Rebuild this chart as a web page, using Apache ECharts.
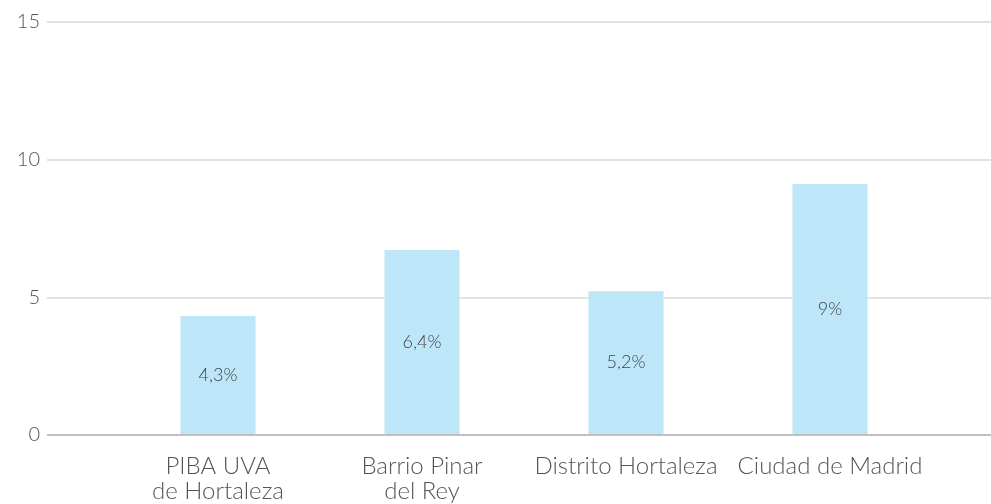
<!DOCTYPE html>
<html>
<head>
<meta charset="utf-8">
<script src="https://cdn.jsdelivr.net/npm/echarts@6/dist/echarts.min.js"></script>
<style>
  html, body { margin: 0; padding: 0; background: #fff; }
  #chart { width: 991px; height: 504px; }
</style>
</head>
<body>
<div id="chart"></div>
<script>
var categories = ['PIBA UVA\nde Hortaleza', 'Barrio Pinar\ndel Rey', 'Distrito Hortaleza', 'Ciudad de Madrid'];
var values = [4.3, 6.7, 5.2, 9.1];          // bar heights as drawn
var valueLabels = ['4,3%', '6,4%', '5,2%', '9%']; // text printed on the bars
var yTicks = [0, 5, 10, 15];

var font = 'Lato';
var myChart = echarts.init(document.getElementById('chart'));

var option = {
  animation: false,
  grid: [
    { left: 47, right: 0, top: 22, bottom: 69 },    // gridlines + y labels
    { left: 116, right: 59, top: 22, bottom: 69 }   // bars
  ],
  xAxis: [
    { gridIndex: 0, type: 'category', data: [''], show: false },
    {
      gridIndex: 1,
      type: 'category',
      data: categories,
      axisLine: { show: false },
      axisTick: { show: false },
      axisLabel: {
        color: '#555',
        fontFamily: font,
        fontWeight: 300,
        fontSize: 24,
        lineHeight: 25,
        margin: 20,
        interval: 0
      }
    }
  ],
  yAxis: [
    {
      gridIndex: 0,
      type: 'value',
      min: yTicks[0],
      max: yTicks[yTicks.length - 1],
      interval: 5,
      axisLine: { show: false },
      axisTick: { show: false },
      axisLabel: {
        color: '#555',
        fontFamily: font,
        fontWeight: 300,
        fontSize: 20,
        margin: 7
      },
      splitLine: { lineStyle: { color: ['#aaa', '#d9d9d9', '#d9d9d9', '#d9d9d9'], width: 1.5 } }
    },
    { gridIndex: 1, type: 'value', min: 0, max: 15, show: false }
  ],
  series: [{
    type: 'bar',
    xAxisIndex: 1,
    yAxisIndex: 1,
    data: values,
    barWidth: 75,
    itemStyle: { color: '#bde6f8' },
    label: {
      show: true,
      position: 'inside',
      color: '#444',
      fontFamily: font,
      fontWeight: 300,
      fontSize: 18,
      formatter: function (p) { return valueLabels[p.dataIndex]; }
    }
  }]
};
myChart.setOption(option);
</script>
</body>
</html>
